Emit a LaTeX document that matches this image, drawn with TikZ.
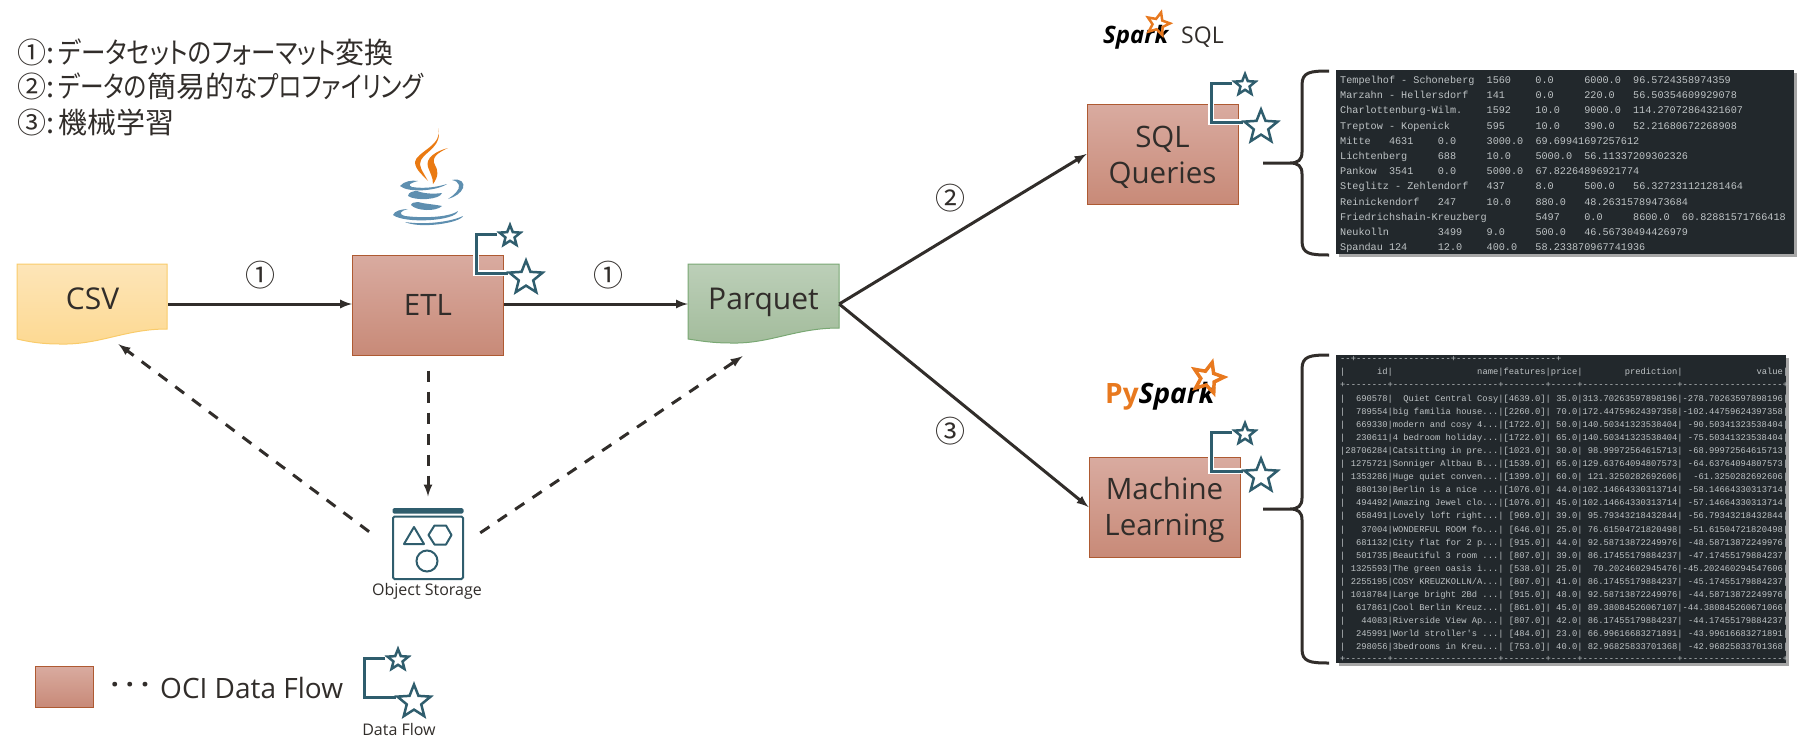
\documentclass[tikz,border=0pt]{standalone}
\usepackage{fontspec}
\setmainfont{Open Sans}
\newfontfamily\cjk[RawFeature=+palt]{Noto Sans CJK JP}
\newfontfamily\kana[RawFeature=+palt,FakeStretch=0.845]{Noto Sans CJK JP}
\newfontfamily\kanb[RawFeature=+palt,FakeStretch=0.815]{Noto Sans CJK JP}
\newfontfamily\cjkwide{Noto Sans CJK JP}
\newfontfamily\termfont{Liberation Mono}
\usetikzlibrary{shapes.geometric,shadows}
\definecolor{inkcol}{HTML}{312D2A}
\definecolor{flowcol}{HTML}{2F5D6D}
\definecolor{sparkcol}{HTML}{E8791F}
\definecolor{javaorange}{HTML}{EA7A12}
\definecolor{javablue}{HTML}{5E8FB0}
\definecolor{termcol}{HTML}{22282C}
\definecolor{termtext}{HTML}{BFC4C6}
\definecolor{procT}{HTML}{D9ABA0}
\definecolor{procB}{HTML}{C88A78}
\definecolor{procE}{HTML}{AE5A32}
\definecolor{csvT}{HTML}{FDE5B8}
\definecolor{csvB}{HTML}{FDD992}
\definecolor{csvE}{HTML}{F9CB6A}
\definecolor{parqT}{HTML}{BCCFB8}
\definecolor{parqB}{HTML}{A3BC9C}
\definecolor{parqE}{HTML}{79A873}
\tikzset{
	procbox/.style={draw=procE,line width=1,top color=procT,bottom color=procB,minimum width=151,minimum height=100,inner sep=0,text=inkcol,align=center,font=\fontsize{29.5}{36}\selectfont},
	docshape/.style={minimum width=151,minimum height=80,inner sep=0,text=inkcol,font=\fontsize{30}{36}\selectfont},
	flow/.style={-latex,line width=3,draw=inkcol},
	dashflow/.style={-latex,line width=3,draw=inkcol,dash pattern=on 11pt off 10pt},
	stepnum/.style={inner sep=0,text=inkcol,font=\fontsize{30}{30}\selectfont\cjkwide},
	goalline/.style={anchor=west,inner sep=0,text=inkcol,font=\fontsize{29}{30}\selectfont\cjk},
	smalllabel/.style={inner sep=0,text=inkcol,font=\fontsize{16}{18}\selectfont},
	flowstar/.style={star,star points=5,star point ratio=2.3,draw=flowcol,line width=2.5,inner sep=0},
	termbox/.style={fill=termcol,inner sep=0,drop shadow={shadow xshift=3pt,shadow yshift=-3pt,opacity=.35,fill=black}},
	termrow/.style={anchor=west,inner sep=0,text=termtext,text height=7pt,text depth=2pt},
	bracebar/.style={line width=3,draw=inkcol,line join=round},
	dataflow/.pic={
		\draw [white,line width=6] (21,0) -- (0,0) -- (0,39) -- (32,39);
		\draw [flowcol,line width=3] (21,0) -- (0,0) -- (0,39) -- (32,39);
		\node [flowstar,minimum size=22] (small) at (34,2) {};
		\node [flowstar,minimum size=35] (big) at (50,44) {};
	}
}
\newdimen\mlch
\mlch=5.27pt
\newcommand{\mlcell}[2]{\makebox[#1\mlch][r]{#2}}
\newcommand{\mlrow}[6]{|\mlcell{8}{#1}|\mlcell{20}{#2}|\mlcell{8}{#3}|\mlcell{5}{#4}|\mlcell{18}{#5}|\mlcell{19}{#6}|}
\newcommand{\mlcut}{...}
\newcommand{\bracepath}[3]{(1329,#1) .. controls (1310,#1) and (1302,#1+1) .. (1302,#1+14) -- (1302,#2-11) .. controls (1302,#2-3) and (1298,#2) .. (1290,#2) -- (1263,#2) (1290,#2) .. controls (1298,#2) and (1302,#2+3) .. (1302,#2+11) -- (1302,#3-14) .. controls (1302,#3-1) and (1310,#3) .. (1329,#3)}
\begin{document}
\begin{tikzpicture}[x=1pt,y=-1pt]
	\useasboundingbox (0,0) rectangle (1807,750);
	% wavy documents
	\draw [csvE,line width=1,top color=csvT,bottom color=csvB] (17,264) -- (167,264) -- (167,329) .. controls (125,329) and (100,345) .. (60,344) .. controls (42,344) and (30,342) .. (17,339) -- cycle;
	\draw [parqE,line width=1,top color=parqT,bottom color=parqB] (688,264) -- (839,264) -- (839,328) .. controls (795,328) and (770,344) .. (731,343) .. controls (713,343) and (701,341) .. (688,339) -- cycle;
	% boxes
	\node [docshape] (csv) at (92.5,304) {\raisebox{10.5pt}{CSV}};
	\node [docshape] (parquet) at (763.5,304) {\raisebox{10.5pt}{Parquet}};
	\node [procbox] (etl) at (428,305) {ETL};
	\node [procbox] (sql) at (1162.5,154) {\rule{0pt}{28pt}SQL\\Queries};
	\node [procbox] (ml) at (1164.5,507) {\rule{0pt}{29pt}Machine\\Learning};
	\node [inner sep=0,minimum size=71] (obj) at (428,544) {};
	\node [smalllabel] (objlabel) at (427,591) {Object Storage};
	% connectors
	\draw [flow] (csv) -- (etl.west |- csv);
	\draw [flow] (etl.east |- parquet) -- (parquet);
	\draw [flow] (parquet.east) -- (sql.west);
	\draw [flow] (parquet.east) -- (ml.west);
	\draw [dashflow,shorten <=15pt,shorten >=12pt] (etl) -- (obj);
	\draw [dashflow,shorten <=29pt] ([yshift=-5pt]obj.west) -- ([xshift=26pt]csv.south);
	\draw [dashflow,shorten <=20pt] (obj.east) -- ([xshift=-21pt,yshift=-12pt]parquet.south);
	% numbers
	\node [stepnum] (n1) at (260,275) {①};
	\node [stepnum] (n2) at (608,275) {①};
	\node [stepnum] (n3) at (950,198) {②};
	\node [stepnum] (n4) at (950,431) {③};
	\node [goalline] (goal1) at (17,52) {①:\kern4pt{\kana データセットのフォーマット}変換};
	\node [goalline] (goal2) at (17,86) {②:\kern4pt{\kanb データの}簡易的{\kanb なプロファイリング}};
	\node [goalline] (goal3) at (17,122) {③:\kern4pt 機械学習};
	% data flow marks
	\pic (etlflow) at (476,234) {dataflow};
	\pic (sqlflow) at (1211,83) {dataflow};
	\pic (mlflow) at (1211,432) {dataflow};
	\pic (keyflow) at (364,658) {dataflow};
	% object storage icon
	\fill [flowcol,rounded corners=1.5] (392.5,508) rectangle (463.5,513.5);
	\draw [flowcol,line width=2,rounded corners=1.5] (393,516.5) rectangle (463,579);
	\draw [flowcol,line width=2,line join=round] (414,527) -- (424,544) -- (404,544) -- cycle;
	\draw [flowcol,line width=2,line join=round] (428.5,535) -- (434.5,525.5) -- (446,525.5) -- (451.5,535) -- (446,544.5) -- (434.5,544.5) -- cycle;
	\draw [flowcol,line width=2] (427,561) circle (10.5);
	% java logo
	\fill [javaorange] (438,128) .. controls (444,145) and (416,152) .. (415,162) .. controls (415,170) and (424,176) .. (428,181) .. controls (422,170) and (418,166) .. (421,160) .. controls (426,151) and (443,146) .. (438,128) -- cycle;
	\fill [javaorange] (448,148) .. controls (436,151) and (425,158) .. (428,167) .. controls (430,173) and (433,177) .. (433,184) .. controls (439,176) and (438,170) .. (435,165) .. controls (431,158) and (437,153) .. (448,148) -- cycle;
	\fill [javablue] (400,186) .. controls (404,181) and (412,180) .. (418,181) .. controls (410,183) and (407,185) .. (412,187) .. controls (425,189) and (437,187) .. (447,184) .. controls (437,191) and (408,193) .. (400,186) -- cycle;
	\fill [javablue] (452,180) .. controls (461,178) and (465,183) .. (463,188) .. controls (461,193) and (455,197) .. (448,199) .. controls (454,195) and (460,190) .. (459,185) .. controls (458,182) and (456,181) .. (452,180) -- cycle;
	\fill [javablue] (408,196) .. controls (408,192) and (414,191) .. (417,191) .. controls (425,194) and (435,194) .. (442,193) .. controls (440,200) and (415,201) .. (408,196) -- cycle;
	\fill [javablue] (411,205) .. controls (411,203) and (415,202) .. (418,202) .. controls (425,204) and (432,204) .. (442,206) .. controls (436,212) and (416,211) .. (411,205) -- cycle;
	\fill [javablue] (393,215) .. controls (394,211) and (402,209) .. (408,209) .. controls (400,211) and (398,214) .. (405,216) .. controls (420,218) and (448,218) .. (458,211) .. controls (456,221) and (405,224) .. (393,215) -- cycle;
	\fill [javablue] (405,222) .. controls (425,225) and (450,222) .. (463,216) .. controls (460,223) and (420,229) .. (405,222) -- cycle;
	% spark logos
	\node [anchor=west,inner sep=0,text=black,font=\fontsize{24}{24}\selectfont\bfseries\itshape] (sparksql) at (1103,37) {Spark};
	\node [star,star points=5,star point ratio=2.2,draw=sparkcol,line width=2.5,inner sep=0,minimum size=24,shape border rotate=-15] (sqlstar) at (1158,24) {};
	\node [anchor=west,inner sep=0,text=inkcol,font=\fontsize{23}{23}\selectfont] (sqlword) at (1181,37) {SQL};
	\node [anchor=west,inner sep=0,text=black,font=\fontsize{28}{28}\selectfont\bfseries] (pyspark) at (1105,396) {\textcolor{sparkcol}{Py}\itshape Spark};
	\node [star,star points=5,star point ratio=2.2,draw=sparkcol,line width=3.5,inner sep=0,minimum size=32,shape border rotate=-15] (pystar) at (1208,378) {};
	% terminal with the sql result
	\node [termbox,minimum width=458,minimum height=184] (sqlterm) at (1565,162) {};
	\foreach \txt [count=\i from 0] in {
		Tempelhof~-~Schoneberg~~1560~~~~0.0~~~~~6000.0~~96.5724358974359,
		Marzahn~-~Hellersdorf~~~141~~~~~0.0~~~~~220.0~~~56.50354609929078,
		Charlottenburg-Wilm.~~~~1592~~~~10.0~~~~9000.0~~114.27072864321607,
		Treptow~-~Kopenick~~~~~~595~~~~~10.0~~~~390.0~~~52.21680672268908,
		Mitte~~~4631~~~~0.0~~~~~3000.0~~69.69941697257612,
		Lichtenberg~~~~~688~~~~~10.0~~~~5000.0~~56.11337209302326,
		Pankow~~3541~~~~0.0~~~~~5000.0~~67.82264896921774,
		Steglitz~-~Zehlendorf~~~437~~~~~8.0~~~~~500.0~~~56.327231121281464,
		Reinickendorf~~~247~~~~~10.0~~~~880.0~~~48.26315789473684,
		Friedrichshain-Kreuzberg~~~~~~~~5497~~~~0.0~~~~~8600.0~~60.82881571766418,
		Neukolln~~~~~~~~3499~~~~9.0~~~~~500.0~~~46.56730494426979,
		Spandau~124~~~~~12.0~~~~400.0~~~58.233870967741936}
		\node [termrow,font=\termfont\fontsize{10.17}{12}\selectfont] (sqlrow\i) at (1340,{81+15.2*\i}) {\txt};
	% terminal with the ml result
	\node [termbox,minimum width=450,minimum height=308] (mlterm) at (1561,509) {};
	\begin{scope}[every node/.append style={termrow,font=\termfont\fontsize{8.78}{10}\selectfont}]
		\node (mltop) at (1340,359) {--+------------------+-------------------+};
		\node (mlhead) at (1340,372) {\mlrow{id}{name}{features}{price}{prediction}{value}};
		\node (mlsep) at (1340,385) {+--------+--------------------+--------+-----+------------------+-------------------+};
		\foreach \a/\b/\c/\d/\e/\f [count=\i from 0] in {
			690578/Quiet Central Cosy/[4639.0]/35.0/313.70263597898196/-278.70263597898196,
			789554/big familia house\mlcut/[2260.0]/70.0/172.44759624397358/-102.44759624397358,
			669330/modern and cosy 4\mlcut/[1722.0]/50.0/140.50341323538404/-90.50341323538404,
			230611/4 bedroom holiday\mlcut/[1722.0]/65.0/140.50341323538404/-75.50341323538404,
			28706284/Catsitting in pre\mlcut/[1023.0]/30.0/98.99972564615713/-68.99972564615713,
			1275721/Sonniger Altbau B\mlcut/[1539.0]/65.0/129.63764094807573/-64.63764094807573,
			1353286/Huge quiet conven\mlcut/[1399.0]/60.0/121.3250282692606/-61.3250282692606,
			880130/Berlin is a nice \mlcut/[1076.0]/44.0/102.14664330313714/-58.14664330313714,
			494492/Amazing Jewel clo\mlcut/[1076.0]/45.0/102.14664330313714/-57.14664330313714,
			658491/Lovely loft right\mlcut/[969.0]/39.0/95.79343218432844/-56.79343218432844,
			37004/WONDERFUL ROOM fo\mlcut/[646.0]/25.0/76.61504721820498/-51.61504721820498,
			681132/City flat for 2 p\mlcut/[915.0]/44.0/92.58713872249976/-48.58713872249976,
			501735/Beautiful 3 room \mlcut/[807.0]/39.0/86.17455179884237/-47.17455179884237,
			1325593/The green oasis i\mlcut/[538.0]/25.0/70.2024602945476/-45.202460294547606,
			2255195/{COSY KREUZKOLLN/A\mlcut}/[807.0]/41.0/86.17455179884237/-45.17455179884237,
			1018784/Large bright 2Bd \mlcut/[915.0]/48.0/92.58713872249976/-44.58713872249976,
			617861/Cool Berlin Kreuz\mlcut/[861.0]/45.0/89.38084526067107/-44.380845260671066,
			44083/Riverside View Ap\mlcut/[807.0]/42.0/86.17455179884237/-44.17455179884237,
			245991/World stroller's \mlcut/[484.0]/23.0/66.99616683271891/-43.99616683271891,
			298056/3bedrooms in Kreu\mlcut/[753.0]/40.0/82.96825833701368/-42.96825833701368}
			\node (mlrow\i) at (1340,{399+13.05*\i}) {\mlrow{\a}{\b}{\c}{\d}{\e}{\f}};
		\node (mlbot) at (1340,659) {+--------+--------------------+--------+-----+------------------+-------------------+};
	\end{scope}
	% braces
	\draw [bracebar] \bracepath{71}{163}{255};
	\draw [bracebar] \bracepath{355}{509}{663};
	% legend
	\node [procbox,minimum width=58,minimum height=41] (keybox) at (64,686.5) {};
	\node [inner sep=0,text=inkcol,font=\fontsize{28}{28}\selectfont\bfseries] (keydots) at (130,688) {· · ·};
	\node [anchor=west,inner sep=0,text=inkcol,font=\fontsize{28}{30}\selectfont] (keytext) at (160,688) {OCI Data Flow};
	\node [smalllabel] (keylabel) at (399,729) {Data Flow};
\end{tikzpicture}
\end{document}
